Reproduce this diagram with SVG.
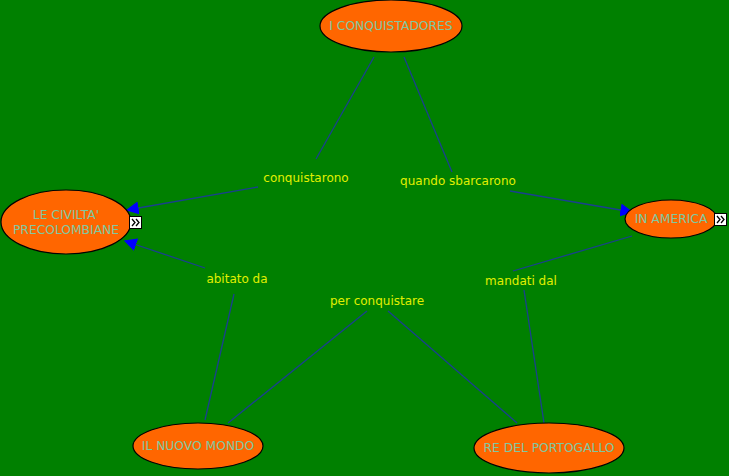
<svg xmlns="http://www.w3.org/2000/svg" width="729" height="476" viewBox="0 0 729 476">
<style>
.node ellipse{fill:#ff6600;stroke:#000;stroke-width:1.2}
.node text{font-family:"DejaVu Sans",Verdana,sans-serif;font-size:12.3px;fill:#80c8a0;text-anchor:middle}
.lbl{font-family:"DejaVu Sans",Verdana,sans-serif;font-size:12px;fill:#e0f000;text-anchor:middle}
.c line{stroke:#1a3f8f;stroke-width:1.3}
.exp rect{fill:#fff;stroke:#000;stroke-width:1}
.exp path{fill:none;stroke:#000;stroke-width:1.3}
</style>
<defs>
<marker id="ar" viewBox="0 0 10 10" refX="9" refY="5" markerWidth="13" markerHeight="13" markerUnits="userSpaceOnUse" orient="auto">
<path d="M0,0 L10,5 L0,10 z" fill="#0000ff"/>
</marker>
</defs>
<rect width="729" height="476" fill="#008000"/>
<g class="c" id="connectors">
<line x1="374" y1="57" x2="316" y2="159"/>
<line x1="258" y1="187" x2="127" y2="210" marker-end="url(#ar)"/>
<line x1="404" y1="57" x2="452" y2="172"/>
<line x1="510" y1="191" x2="632" y2="212" marker-end="url(#ar)"/>
<line x1="632" y1="236" x2="513" y2="271"/>
<line x1="524" y1="290" x2="544" y2="423"/>
<line x1="205" y1="420" x2="234" y2="294"/>
<line x1="205" y1="268" x2="125" y2="241" marker-end="url(#ar)"/>
<line x1="228" y1="423" x2="367" y2="311"/>
<line x1="517" y1="423" x2="388" y2="311"/>
</g>
<g id="labels">
<text class="lbl" x="306" y="182">conquistarono</text>
<text class="lbl" x="458" y="185">quando sbarcarono</text>
<text class="lbl" x="521" y="285">mandati dal</text>
<text class="lbl" x="237" y="283">abitato da</text>
<text class="lbl" x="377" y="305">per conquistare</text>
</g>
<g class="node" id="n-conquistadores">
<ellipse cx="391" cy="26" rx="71" ry="26"/>
<text x="391" y="30">I CONQUISTADORES</text>
</g>
<g class="node" id="n-civilta">
<ellipse cx="66" cy="222" rx="65" ry="32"/>
<text x="66" y="219">LE CIVILTA'</text>
<text x="66" y="234">PRECOLOMBIANE</text>
</g>
<g class="exp" id="e-civilta">
<rect x="129.5" y="216.5" width="12" height="12"/>
<path d="M132,219 l3,3.5 l-3,3.5 M136,219 l3,3.5 l-3,3.5"/>
</g>
<g class="node" id="n-america">
<ellipse cx="671" cy="219" rx="46" ry="19"/>
<text x="671" y="223">IN AMERICA</text>
</g>
<g class="exp" id="e-america">
<rect x="714.5" y="213.5" width="12" height="12"/>
<path d="M717,216 l3,3.5 l-3,3.5 M721,216 l3,3.5 l-3,3.5"/>
</g>
<g class="node" id="n-nuovo">
<ellipse cx="198" cy="446" rx="65" ry="23"/>
<text x="198" y="450">IL NUOVO MONDO</text>
</g>
<g class="node" id="n-portogallo">
<ellipse cx="549" cy="448" rx="75" ry="25"/>
<text x="549" y="452">RE DEL PORTOGALLO</text>
</g>
</svg>
